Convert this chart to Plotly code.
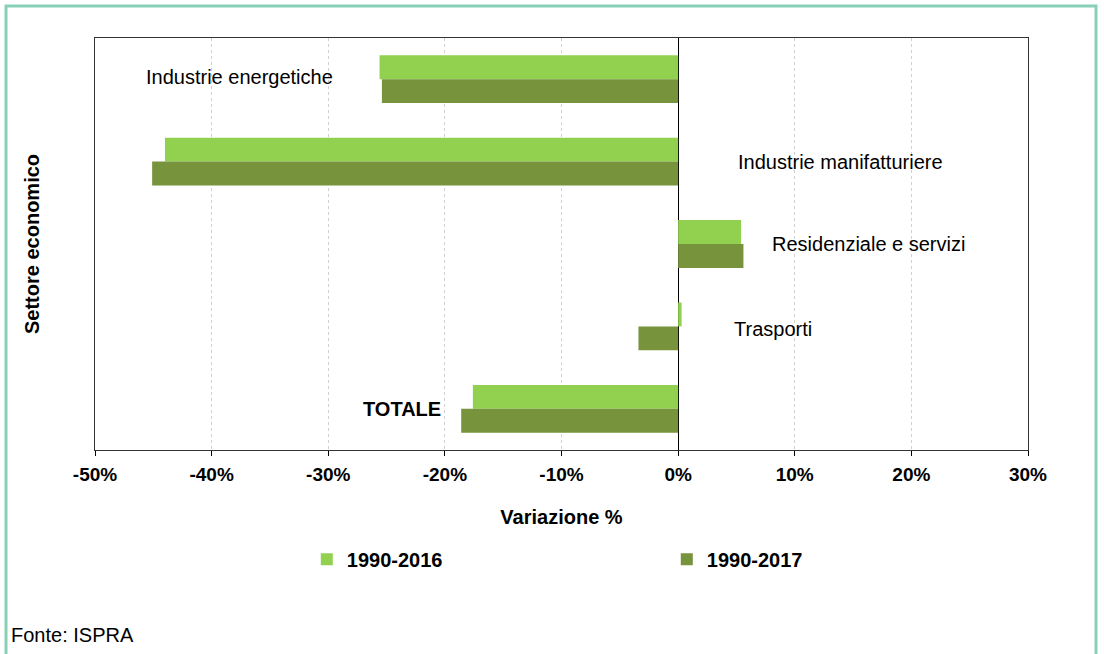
import plotly.graph_objects as go

categories = ["Industrie energetiche", "Industrie manifatturiere", "Residenziale e servizi", "Trasporti", "TOTALE"]
values_2016 = [-25.6, -44.0, 5.4, 0.3, -17.6]
values_2017 = [-25.4, -45.1, 5.6, -3.4, -18.6]
series_names = ["1990-2016", "1990-2017"]
x_tick_vals = [-50, -40, -30, -20, -10, 0, 10, 20, 30]
x_tick_text = ["-50%", "-40%", "-30%", "-20%", "-10%", "0%", "10%", "20%", "30%"]

LIGHT = "#92D050"
DARK = "#77933C"
FONT = "Liberation Sans, Arial, sans-serif"

fig = go.Figure()
fig.add_trace(go.Bar(y=categories, x=values_2016, orientation="h", name=series_names[0],
                     marker=dict(color=LIGHT, line=dict(width=0))))
fig.add_trace(go.Bar(y=categories, x=values_2017, orientation="h", name=series_names[1],
                     marker=dict(color=DARK, line=dict(width=0))))

# category labels (yshift: positive = up)
label_x = [-37.6, 13.9, 16.3, 8.1, -23.7]
label_shift = [2, 0, 0, -3, 0]
for cat, lx, ys in zip(categories, label_x, label_shift):
    bold = cat == "TOTALE"
    fig.add_annotation(x=lx, y=cat, xref="x", yref="y", text=f"<b>{cat}</b>" if bold else cat,
                       showarrow=False, yshift=ys,
                       font=dict(family=FONT, size=20, color="#000000"))

fig.add_annotation(x=0, y=0, xref="paper", yref="paper", xanchor="left", yanchor="bottom",
                   text="Fonte: ISPRA", showarrow=False, xshift=-86, yshift=-198,
                   font=dict(family=FONT, size=20, color="#000000"))

# outer teal frame
fig.add_shape(type="rect", xref="paper", yref="paper",
              x0=(6 - 95) / 933, x1=(1096 - 95) / 933, y0=(450 - 700) / 412, y1=(450 - 6) / 412,
              line=dict(color="#88CFB8", width=3), fillcolor="rgba(0,0,0,0)", layer="below")

fig.update_layout(
    width=1104, height=654,
    margin=dict(l=95, r=76, t=38, b=204),
    paper_bgcolor="white", plot_bgcolor="white",
    barmode="group", bargap=0.42, bargroupgap=0,
    font=dict(family=FONT, size=20, color="#000000"),
    showlegend=True,
    legend=dict(orientation="h", x=0.227, y=-0.218, xanchor="left", yanchor="top",
                entrywidth=315, entrywidthmode="pixels", itemwidth=30,
                font=dict(family=FONT, size=20, color="#000000", weight="bold"),
                bgcolor="rgba(0,0,0,0)", traceorder="normal"),
    xaxis=dict(range=[-50, 30], tickvals=x_tick_vals, ticktext=x_tick_text,
               tickfont=dict(family=FONT, size=19, color="#000000", weight="bold"),
               ticks="outside", ticklen=5, tickcolor="#000000", ticklabelstandoff=2,
               showgrid=True, gridcolor="#CFCFCF", griddash="dot", gridwidth=1,
               zeroline=True, zerolinecolor="#000000", zerolinewidth=1,
               showline=True, linecolor="#333333", linewidth=1, mirror=True,
               title=dict(text="<b>Variazione %</b>", standoff=26,
                          font=dict(family=FONT, size=20, color="#000000"))),
    yaxis=dict(categoryorder="array", categoryarray=categories, autorange="reversed",
               showticklabels=False, ticks="", showgrid=False, zeroline=False,
               showline=True, linecolor="#333333", linewidth=1, mirror=True,
               title=dict(text="<b>Settore economico</b>", standoff=49,
                          font=dict(family=FONT, size=20, color="#000000"))),
    yaxis2=dict(overlaying="y", anchor="free", position=50 / 80, side="left",
                range=[-0.5, 4.5], autorange=False,
                tickvals=[0.5, 1.5, 2.5, 3.5], ticks="outside", ticklen=4, tickcolor="#000000",
                showticklabels=False, showgrid=False, zeroline=False, showline=False),
)

fig.write_html("out.html", config={"displayModeBar": False},
               post_script="document.body.style.margin='0';document.body.style.overflow='hidden';")
